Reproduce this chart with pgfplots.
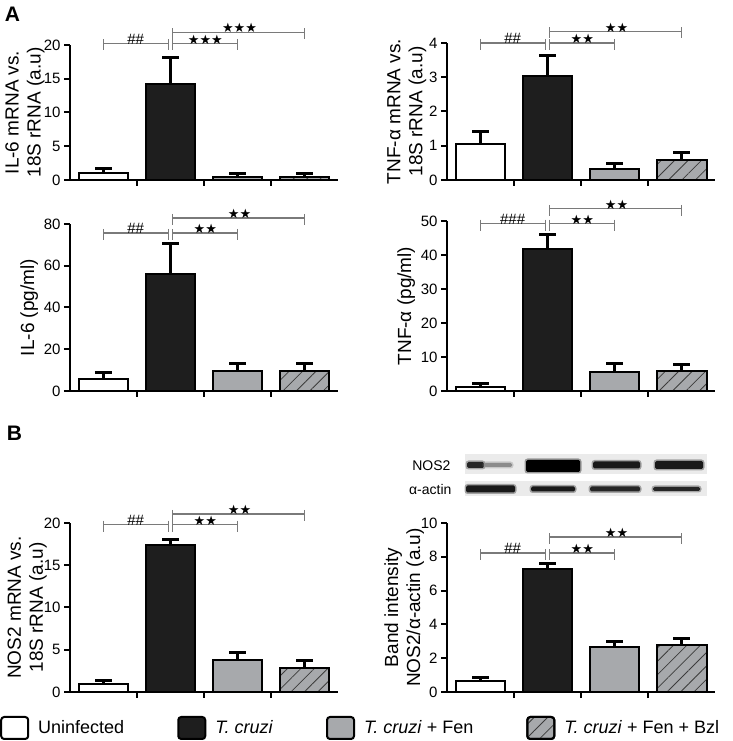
\documentclass[border=0pt]{standalone}
\usepackage{pgfplots}
\pgfplotsset{compat=1.18}
\usepackage{fontspec}
\setmainfont{Liberation Sans}
\newfontfamily\dejavu{DejaVu Sans}
\usetikzlibrary{patterns.meta}
\definecolor{barblack}{HTML}{1E1E1E}
\definecolor{bargray}{HTML}{A7A9AC}
\definecolor{hatch}{HTML}{3C3C3C}
\definecolor{brkgray}{HTML}{7A7A7A}
\definecolor{blotbg}{HTML}{EBEBEB}
\newcommand{\fs}[1]{\fontsize{#1}{#1}\selectfont}
\newcommand{\hh}[1]{{\fs{15}#1}}
\newcommand{\st}[1]{{\dejavu\fs{13}#1}}
\tikzset{brk/.style={draw=brkgray, line width=1.2pt}}
\newcommand{\brk}[5]{%
  \draw[brk] (axis cs:#1,#3) -- (axis cs:#2,#3);
  \draw[brk] ([yshift=4pt]axis cs:#1,#3) -- ([yshift=-7pt]axis cs:#1,#3);
  \draw[brk] ([yshift=4pt]axis cs:#2,#3) -- ([yshift=-7pt]axis cs:#2,#3);
  \node[anchor=south, inner sep=0pt] at ([yshift=-1pt]axis cs:#4,#3) {#5};
}
\newcommand{\band}[5]{%
  \fill[#5, opacity=0.35, rounded corners=3pt] ({#1-1.5},{#3-#4/2-1.5}) rectangle ({#2+1.5},{#3+#4/2+1.5});
  \fill[#5, rounded corners=1.5pt] ({#1},{#3-#4/2}) rectangle ({#2},{#3+#4/2});
}
\pgfplotsset{
  mybar/.style={ybar, bar width=0.746, draw=black, line width=2pt,
    error bars/.cd, y dir=plus, y explicit,
      error bar style={line width=3pt, black},
      error mark options={rotate=90, line width=3pt, mark size=8.5pt, black},
    /pgfplots/.cd,
    legend image code/.code={\draw[##1, rounded corners=3pt] (0pt,-11pt) rectangle (27pt,11pt);}},
  b1/.style={mybar, fill=white},
  b2/.style={mybar, fill=barblack},
  b3/.style={mybar, fill=bargray},
  b4/.style={mybar, fill=bargray, postaction={pattern={Lines[angle=45,distance=9.5pt,line width=0.8pt]}, pattern color=hatch}},
  panel/.style={
    scale only axis, width=268pt, anchor=south west,
    xmin=-0.5, xmax=3.5, ymin=0,
    axis lines*=left,
    axis line style={line width=2pt, black},
    tick style={line width=2pt, black},
    tick align=outside, major tick length=6pt,
    xtick={0.5,1.5,2.5}, xticklabels={},
    /pgf/number format/assume math mode=true,
    tick label style={font=\fs{15}},
    every axis y label/.style={rotate=90, anchor=center, align=center, font=\fontsize{19}{22}\selectfont},
    clip=false,
  }
}
\begin{document}
\begin{tikzpicture}[x=1pt,y=1pt]
\useasboundingbox (0,0) rectangle (732,741);
% ---------- Panel A1: IL-6 mRNA
\begin{axis}[panel, at={(70pt,561pt)}, height=135pt, ymax=20, ytick={0,5,10,15,20},
  ylabel={IL-6 mRNA vs.\\18S rRNA (a.u)}, ylabel style={at={(axis description cs:-0.168,0.5)}}]
\addplot[b1] coordinates {(0,1.05) +- (0,0.68)};
\addplot[b2] coordinates {(1,14.2) +- (0,4.0)};
\addplot[b3] coordinates {(2,0.5) +- (0,0.4)};
\addplot[b4] coordinates {(3,0.5) +- (0,0.45)};
\brk{0}{0.975}{20.25}{0.48}{\hh{\#\#}}
\brk{1.025}{2}{20.25}{1.52}{\st{★★★}}
\brk{1.025}{3}{21.9}{2.03}{\st{★★★}}
\end{axis}
% ---------- Panel A2: TNF mRNA
\begin{axis}[panel, at={(447pt,561pt)}, height=137pt, ymax=4, ytick={0,1,2,3,4},
  ylabel={TNF-α mRNA vs.\\18S rRNA (a.u)}, ylabel style={at={(axis description cs:-0.150,0.5)}}]
\addplot[b1] coordinates {(0,1.05) +- (0,0.38)};
\addplot[b2] coordinates {(1,3.04) +- (0,0.59)};
\addplot[b3] coordinates {(2,0.32) +- (0,0.17)};
\addplot[b4] coordinates {(3,0.58) +- (0,0.23)};
\brk{0}{0.975}{4.0}{0.48}{\hh{\#\#}}
\brk{1.025}{2}{4.0}{1.52}{\st{★★}}
\brk{1.025}{3}{4.34}{2.03}{\st{★★}}
\end{axis}
% ---------- Panel A3: IL-6 pg/ml
\begin{axis}[panel, at={(70pt,350pt)}, height=167pt, ymax=80, ytick={0,20,40,60,80},
  ylabel={IL-6 (pg/ml)}, ylabel style={at={(axis description cs:-0.152,0.5)}}]
\addplot[b1] coordinates {(0,5.8) +- (0,3.0)};
\addplot[b2] coordinates {(1,56.2) +- (0,14.5)};
\addplot[b3] coordinates {(2,9.4) +- (0,3.6)};
\addplot[b4] coordinates {(3,9.4) +- (0,3.6)};
\brk{0}{0.975}{75.7}{0.48}{\hh{\#\#}}
\brk{1.025}{2}{75.7}{1.52}{\st{★★}}
\brk{1.025}{3}{82.9}{2.03}{\st{★★}}
\end{axis}
% ---------- Panel A4: TNF pg/ml
\begin{axis}[panel, at={(447pt,350pt)}, height=170pt, ymax=50, ytick={0,10,20,30,40,50},
  ylabel={TNF-α (pg/ml)}, ylabel style={at={(axis description cs:-0.152,0.5)}}]
\addplot[b1] coordinates {(0,1.17) +- (0,0.98)};
\addplot[b2] coordinates {(1,41.8) +- (0,4.3)};
\addplot[b3] coordinates {(2,5.6) +- (0,2.5)};
\addplot[b4] coordinates {(3,5.9) +- (0,1.9)};
\brk{0}{0.975}{49.2}{0.48}{\hh{\#\#\#}}
\brk{1.025}{2}{49.2}{1.52}{\st{★★}}
\brk{1.025}{3}{53.6}{2.03}{\st{★★}}
\end{axis}
% ---------- Panel B1: NOS2 mRNA
\begin{axis}[panel, at={(70pt,49pt)}, height=169pt, ymax=20, ytick={0,5,10,15,20},
  ylabel={NOS2 mRNA vs.\\18S rRNA (a.u)}, ylabel style={at={(axis description cs:-0.160,0.5)}},
  legend columns=4,
  legend style={at={(rel axis cs:-0.2612,-0.213)}, anchor=west, draw=none, fill=none,
    inner sep=0pt, font=\fs{18}, legend cell align=left,
    /tikz/every odd column/.append style={column sep=7pt},
    /tikz/every even column/.append style={column sep=51pt}}]
\addplot[b1] coordinates {(0,1.0) +- (0,0.39)};
\addplot[b2] coordinates {(1,17.4) +- (0,0.6)};
\addplot[b3] coordinates {(2,3.76) +- (0,0.87)};
\addplot[b4] coordinates {(3,2.85) +- (0,0.91)};
\brk{0}{0.975}{19.8}{0.48}{\hh{\#\#}}
\brk{1.025}{2}{19.8}{1.52}{\st{★★}}
\brk{1.025}{3}{21.07}{2.03}{\st{★★}}
\legend{Uninfected, \textit{T. cruzi}, \textit{T. cruzi} + Fen, \textit{T. cruzi} + Fen + Bzl}
\end{axis}
% ---------- Panel B2: band intensity
\begin{axis}[panel, at={(447pt,49pt)}, height=169pt, ymax=10, ytick={0,2,4,6,8,10},
  ylabel={Band intensity\\NOS2/α-actin (a.u)}, ylabel style={at={(axis description cs:-0.160,0.5)}}]
\addplot[b1] coordinates {(0,0.65) +- (0,0.2)};
\addplot[b2] coordinates {(1,7.3) +- (0,0.3)};
\addplot[b3] coordinates {(2,2.66) +- (0,0.3)};
\addplot[b4] coordinates {(3,2.76) +- (0,0.38)};
\brk{0}{0.975}{8.22}{0.48}{\hh{\#\#}}
\brk{1.025}{2}{8.22}{1.52}{\st{★★}}
\brk{1.025}{3}{9.17}{2.03}{\st{★★}}
\end{axis}
% ---------- Western blot (illustration)
\fill[blotbg] (465,267) rectangle (707,287);
\fill[blotbg] (465,245) rectangle (707,260);
\band{467}{484}{276}{6}{black!85}
\band{484}{512}{276}{4}{black!45}
\band{526}{580}{275}{12}{black}
\band{593}{640}{276}{7}{black!90}
\band{655}{703}{276}{8}{black!90}
\band{466}{515}{252}{7}{black!90}
\band{531}{575}{252}{5}{black!90}
\band{590}{640}{252}{5}{black!85}
\band{653}{700}{252}{4}{black!85}
\node[anchor=east, font=\fs{14}] at (454,275) {NOS2};
\node[anchor=east, font=\fs{14}] at (455,252) {α-actin};
% ---------- panel letters
\node[font=\bfseries\fs{21}] at (12.5,726.5) {A};
\node[font=\bfseries\fs{21}] at (14.5,308) {B};
\end{tikzpicture}
\end{document}
